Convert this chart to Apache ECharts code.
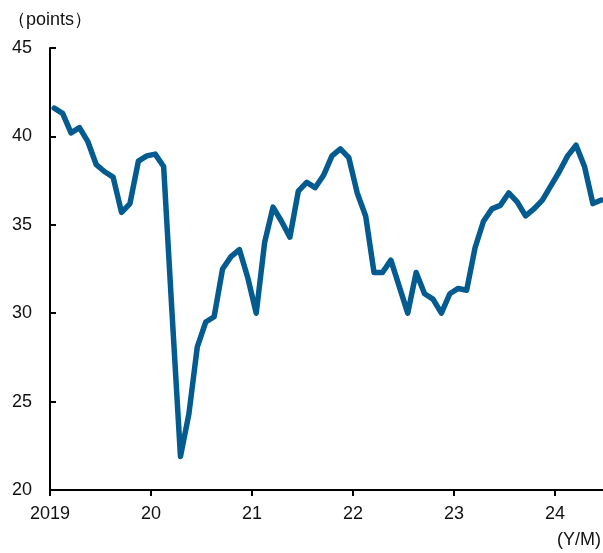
<!DOCTYPE html>
<html>
<head>
<meta charset="utf-8">
<script src="https://cdn.jsdelivr.net/npm/echarts@6/dist/echarts.min.js"></script>
<style>
html,body{margin:0;padding:0;background:#fff;}
#c{width:603px;height:553px;}
</style>
</head>
<body>
<div id="c"></div>
<script>
// Monthly values, Jan 2019 .. Jun 2024
var startYear = 2019;
var values = [
  41.6, 41.3, 40.2, 40.5, 39.7, 38.4, 38.0, 37.7, 35.7, 36.2, 38.6, 38.9,
  39.0, 38.3, 30.0, 21.9, 24.3, 28.1, 29.5, 29.8, 32.5, 33.2, 33.6, 32.0,
  30.0, 34.0, 36.0, 35.2, 34.3, 36.9, 37.4, 37.1, 37.8, 38.9, 39.3, 38.8,
  36.8, 35.5, 32.3, 32.3, 33.0, 31.5, 30.0, 32.3, 31.1, 30.8, 30.0, 31.1,
  31.4, 31.3, 33.7, 35.2, 35.9, 36.1, 36.8, 36.3, 35.5, 35.9, 36.4, 37.2,
  38.0, 38.9, 39.5, 38.3, 36.2, 36.4
];
var xTickLabels = ['2019', '20', '21', '22', '23', '24'];
var yTicks = [20, 25, 30, 35, 40, 45];
var yUnit = '（points）';
var xUnit = '(Y/M)';

var seriesData = values.map(function (v, i) { return [i + 0.5, v]; });

var FONT = '"Liberation Sans Narrow", "Arial Narrow", "Liberation Sans", Arial, sans-serif';
var chart = echarts.init(document.getElementById('c'), null, {renderer: 'canvas'});
chart.setOption({
  animation: false,
  backgroundColor: '#ffffff',
  grid: {left: 50, right: 0, top: 48, bottom: 63, containLabel: false},
  xAxis: {
    type: 'value',
    min: 0,
    max: 65.7,
    interval: 12,
    splitLine: {show: false},
    axisLine: {show: true, lineStyle: {color: '#000', width: 2}},
    axisTick: {show: true, inside: false, length: 6, lineStyle: {color: '#000', width: 2}},
    axisLabel: {
      show: true, margin: 15, color: '#111', fontSize: 18, fontFamily: FONT,
      showMaxLabel: false,
      formatter: function (v) {
        var k = Math.round(v / 12);
        if (Math.abs(v - k * 12) > 0.01) return '';
        return xTickLabels[k] || '';
      }
    }
  },
  yAxis: {
    type: 'value',
    min: yTicks[0],
    max: yTicks[yTicks.length - 1],
    interval: 5,
    splitLine: {show: false},
    axisLine: {show: true, lineStyle: {color: '#000', width: 2}},
    axisTick: {show: true, inside: true, length: 6, lineStyle: {color: '#000', width: 2}},
    axisLabel: {margin: 18, color: '#111', fontSize: 18, fontFamily: FONT}
  },
  graphic: [
    {type: 'text', left: 8, top: 11, style: {text: yUnit, fontSize: 18, fontFamily: FONT, fill: '#111'}},
    {type: 'text', right: 2, top: 531, style: {text: xUnit, fontSize: 18, fontFamily: FONT, fill: '#111'}}
  ],
  series: [{
    type: 'line',
    data: seriesData,
    showSymbol: false,
    symbol: 'none',
    clip: true,
    lineStyle: {color: '#045b8f', width: 5.5, join: 'round', cap: 'round'}
  }]
});
</script>
</body>
</html>
